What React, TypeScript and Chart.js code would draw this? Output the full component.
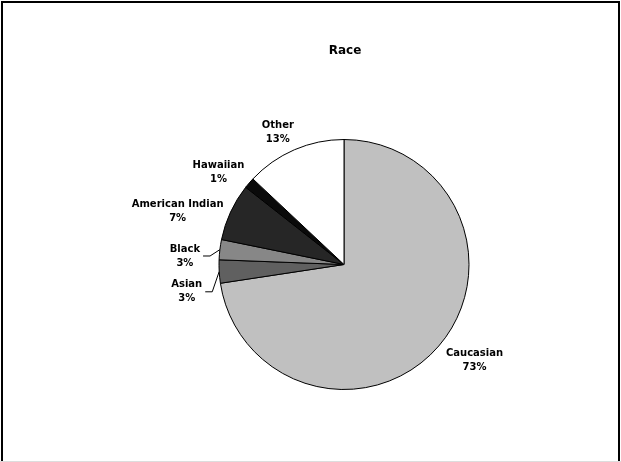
import React, { useEffect, useRef } from "react";
import { Chart, registerables } from "chart.js";

Chart.register(...registerables);

// Race breakdown (percent of respondents)
const categories = ["Caucasian", "Asian", "Black", "American Indian", "Hawaiian", "Other"];
const shares = [72.6, 3.0, 2.6, 7.4, 1.4, 13.0];
const sliceColors = ["#c0c0c0", "#606060", "#878787", "#262626", "#0a0a0a", "#ffffff"];
const chartTitle = "Race";

// label placement tweaks (px) relative to the default outside position
const labelNudge: Record<string, [number, number, boolean]> = {
  Caucasian: [8, 0, false],
  Asian: [-9, 19, true],
  Black: [-12, 9, true],
  "American Indian": [-4, 9, false],
  Hawaiian: [-5, 4, false],
  Other: [-7, 3, false],
};

const FONT = '"DejaVu Sans", Verdana, sans-serif';

const framePlugin = {
  id: "frame",
  beforeDraw(chart: any) {
    const { ctx, width, height } = chart;
    ctx.save();
    ctx.fillStyle = "#ffffff";
    ctx.fillRect(0, 0, width, height);
    ctx.strokeStyle = "#000000";
    ctx.lineWidth = 2;
    ctx.strokeRect(2, 2, width - 4, height + 10);
    ctx.fillStyle = "#dddddd";
    ctx.fillRect(0, height - 1, width, 1);
    ctx.restore();
  },
};

const labelPlugin = {
  id: "pieLabels",
  afterDatasetsDraw(chart: any) {
    const { ctx } = chart;
    const meta = chart.getDatasetMeta(0);
    const data: number[] = chart.data.datasets[0].data;
    const total = data.reduce((a, b) => a + b, 0);
    const area = chart.chartArea;

    ctx.save();
    // title
    ctx.fillStyle = "#000";
    ctx.font = `bold 12px ${FONT}`;
    ctx.textAlign = "center";
    ctx.textBaseline = "middle";
    ctx.fillText(chartTitle, (area.left + area.right) / 2 + 1, 51);

    ctx.font = `bold 10px ${FONT}`;
    const lineH = 14;
    meta.data.forEach((arc: any, i: number) => {
      const { x, y, startAngle, endAngle, outerRadius } = arc.getProps(
        ["x", "y", "startAngle", "endAngle", "outerRadius"],
        true
      );
      const mid = (startAngle + endAngle) / 2;
      const ux = Math.cos(mid);
      const uy = Math.sin(mid);
      const name = chart.data.labels[i];
      const pct = `${Math.round((data[i] / total) * 100)}%`;
      const w = Math.max(ctx.measureText(name).width, ctx.measureText(pct).width);
      const h = lineH * 2;
      const d = outerRadius + 8;
      const [nx, ny, leader] = labelNudge[name] || [0, 0, false];
      const cx = x + ux * d + (ux * w) / 2 + nx;
      const cy = y + uy * d + (uy * h) / 2 + ny;

      ctx.fillStyle = "#000";
      ctx.textAlign = "center";
      ctx.textBaseline = "middle";
      ctx.fillText(name, cx, cy - lineH / 2);
      ctx.fillText(pct, cx, cy + lineH / 2);

      if (leader) {
        const ex = x + ux * outerRadius;
        const ey = y + uy * outerRadius;
        const sx = cx + ctx.measureText(name).width / 2 + 3;
        ctx.strokeStyle = "#000";
        ctx.lineWidth = 1;
        ctx.beginPath();
        ctx.moveTo(sx, cy);
        ctx.lineTo(sx + 7, cy);
        ctx.lineTo(ex, ey);
        ctx.stroke();
      }
    });
    ctx.restore();
  },
};

export default function App() {
  const ref = useRef<HTMLCanvasElement | null>(null);

  useEffect(() => {
    document.body.style.margin = "0";
    const canvas = ref.current;
    if (!canvas) return;
    const chart = new Chart(canvas, {
      type: "pie",
      data: {
        labels: categories,
        datasets: [
          {
            data: shares,
            backgroundColor: sliceColors,
            borderColor: "#000000",
            borderWidth: 1,
            radius: 125,
          },
        ],
      },
      options: {
        responsive: false,
        animation: false,
        layout: { padding: { left: 100, right: 33, top: 100, bottom: 33 } },
        plugins: {
          legend: { display: false },
          tooltip: { enabled: false },
          title: { display: false },
        },
      },
      plugins: [framePlugin, labelPlugin],
    });
    return () => chart.destroy();
  }, []);

  return (
    <div style={{ width: 621, height: 462 }}>
      <canvas ref={ref} width={621} height={462} style={{ display: "block" }} />
    </div>
  );
}
